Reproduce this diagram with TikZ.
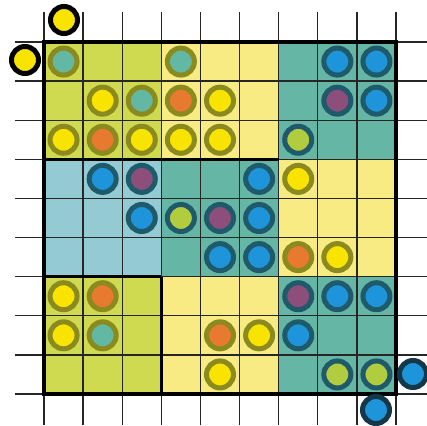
\documentclass[tikz,border=0pt]{standalone}
\definecolor{ygreen}{HTML}{D0DA50}
\definecolor{lyellow}{HTML}{F9EB84}
\definecolor{tealbg}{HTML}{66B6A6}
\definecolor{lblue}{HTML}{93CAD4}
\definecolor{cyellow}{HTML}{F8E400}
\definecolor{corange}{HTML}{E87A30}
\definecolor{cteal}{HTML}{62B8A2}
\definecolor{cblue}{HTML}{1E94DA}
\definecolor{cpurple}{HTML}{8E4E7C}
\definecolor{clime}{HTML}{B2CC40}
\definecolor{olivebd}{HTML}{8A8A1E}
\definecolor{dtealbd}{HTML}{1E5A6A}
\definecolor{darkbd}{HTML}{143848}
\begin{document}
\begin{tikzpicture}[x=1pt,y=-1pt,
  gridline/.style={line width=1.3pt, draw=black!85},
  border/.style={line width=4pt, draw=black},
  heavy/.style={line width=3.2pt, draw=black},
  dot/.style={circle, minimum size=27pt, inner sep=0pt, line width=5pt},
  dy/.style={dot, fill=cyellow, draw=olivebd},
  do/.style={dot, fill=corange, draw=olivebd},
  dt/.style={dot, fill=cteal, draw=olivebd},
  db/.style={dot, fill=cblue, draw=dtealbd},
  dp/.style={dot, fill=cpurple, draw=dtealbd},
  dl/.style={dot, fill=clime, draw=dtealbd},
  ey/.style={dot, fill=cyellow, draw=black},
  eb/.style={dot, fill=cblue, draw=darkbd}]
\useasboundingbox (0,0) rectangle (427,425);
\fill[white] (0,0) rectangle (427,425);
% coordinates of grid
\def\gs{39.111}
% region fills
\fill[ygreen]  (44,42) rectangle (161.33,159.33);
\fill[lyellow] (161.33,42) rectangle (278.67,159.33);
\fill[tealbg]  (278.67,42) rectangle (396,159.33);
\fill[lblue]   (44,159.33) rectangle (161.33,276.67);
\fill[tealbg]  (161.33,159.33) rectangle (278.67,276.67);
\fill[lyellow] (278.67,159.33) rectangle (396,276.67);
\fill[ygreen]  (44,276.67) rectangle (161.33,394);
\fill[lyellow] (161.33,276.67) rectangle (278.67,394);
\fill[tealbg]  (278.67,276.67) rectangle (396,394);
% grid lines with ticks
\foreach \i in {0,...,9} {
  \draw[gridline] ({44+\gs*\i},12) -- ({44+\gs*\i},425);
  \draw[gridline] (15,{42+\gs*\i}) -- (427,{42+\gs*\i});
}
% heavy separators
\draw[heavy] (44,159.33) -- (278.67,159.33);
\draw[heavy] (44,276.67) -- (161.33,276.67);
\draw[heavy] (161.33,276.67) -- (161.33,394);
\draw[border] (44,42) rectangle (396,394);
% dots inside the grid
\foreach \c/\r/\s in {0/0/dt, 3/0/dt, 7/0/db, 8/0/db,
  1/1/dy, 2/1/dt, 3/1/do, 4/1/dy, 7/1/dp, 8/1/db,
  0/2/dy, 1/2/do, 2/2/dy, 3/2/dy, 4/2/dy, 6/2/dl,
  1/3/db, 2/3/dp, 5/3/db, 6/3/dy,
  2/4/db, 3/4/dl, 4/4/dp, 5/4/db,
  4/5/db, 5/5/db, 6/5/do, 7/5/dy,
  0/6/dy, 1/6/do, 6/6/dp, 7/6/db, 8/6/db,
  0/7/dy, 1/7/dt, 4/7/do, 5/7/dy, 6/7/db,
  4/8/dy, 7/8/dl, 8/8/dl}
  \node[\s] (d-\c-\r) at ({63.556+\gs*\c},{61.556+\gs*\r}) {};
% outside dots
\node[ey] (ext-top) at (64,20) {};
\node[ey] (ext-left) at (25,60) {};
\node[eb] (ext-right) at (413,374) {};
\node[eb] (ext-bottom) at (376,410) {};
\end{tikzpicture}
\end{document}
